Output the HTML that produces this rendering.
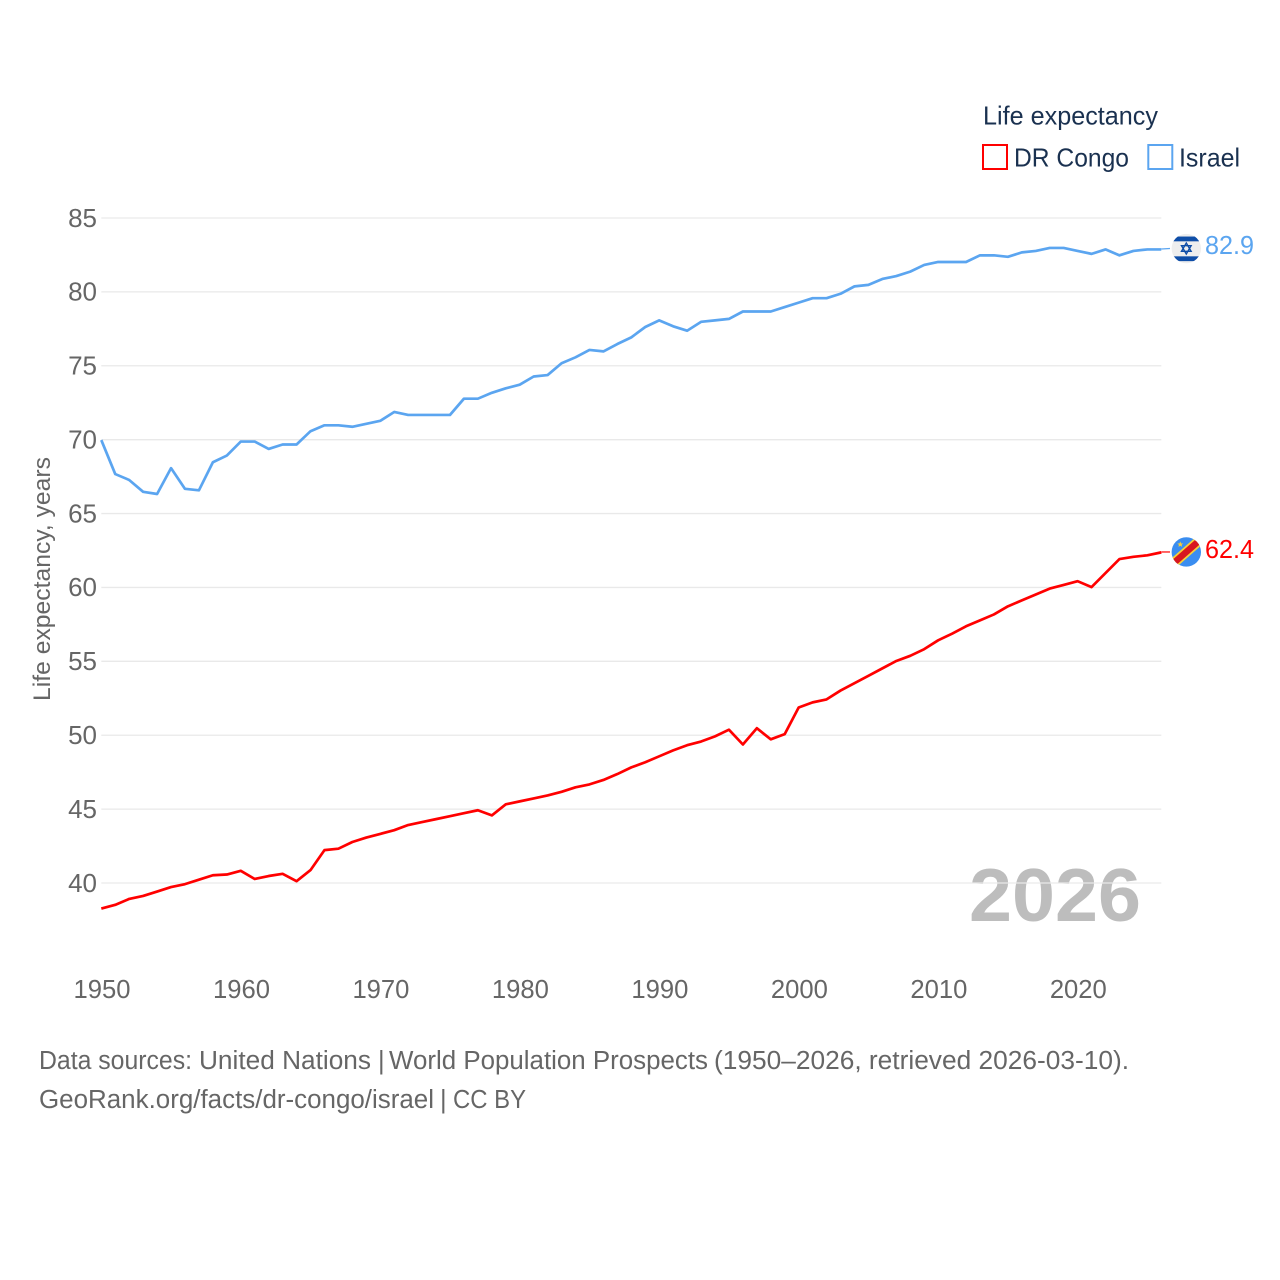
<!DOCTYPE html>
<html lang="en">
<head>
<meta charset="utf-8">
<title>Life expectancy: DR Congo and Israel</title>
<style>
html,body{margin:0;padding:0;background:#fff;}
svg{display:block;}
text{font-family:"Liberation Sans",sans-serif;}
</style>
</head>
<body>
<svg id="chart" xmlns="http://www.w3.org/2000/svg" width="1280" height="1280" viewBox="0 0 1280 1280">
  <defs>
    <clipPath id="flag-clip"><circle cx="0" cy="0" r="14.7"></circle></clipPath>
  </defs>
  <text x="969" y="921" font-size="75" font-weight="bold" fill="#bdbdbd" textLength="172" lengthAdjust="spacingAndGlyphs">2026</text>
  <g id="grid"></g>
  <g id="y-ticks"></g>
  <g id="x-ticks"></g>
  <text transform="translate(50,701) rotate(-90)" font-size="24.5" fill="#666666" textLength="244" lengthAdjust="spacingAndGlyphs">Life expectancy, years</text>
  <g id="series" transform="translate(0,0.4)"></g>
  <g id="ends"></g>
  <g>
    <text x="983" y="124.5" font-size="26" fill="#1a3150" textLength="175" lengthAdjust="spacingAndGlyphs">Life expectancy</text>
    <rect x="983" y="145" width="24" height="24" fill="#fff" stroke="#ff0000" stroke-width="2"></rect>
    <text x="1014" y="166.5" font-size="26" fill="#1a3150" textLength="115" lengthAdjust="spacingAndGlyphs">DR Congo</text>
    <rect x="1148.3" y="145" width="24" height="24" fill="#fff" stroke="#5ba5f0" stroke-width="2"></rect>
    <text x="1179" y="166.5" font-size="26" fill="#1a3150" textLength="61" lengthAdjust="spacingAndGlyphs">Israel</text>
  </g>
  <text y="1069" font-size="25.5" fill="#666666"><tspan x="39" textLength="153" lengthAdjust="spacingAndGlyphs">Data sources:</tspan> <tspan x="199" textLength="172" lengthAdjust="spacingAndGlyphs">United Nations</tspan> <tspan x="378">|</tspan> <tspan x="389" textLength="319" lengthAdjust="spacingAndGlyphs">World Population Prospects</tspan> <tspan x="714" textLength="415" lengthAdjust="spacingAndGlyphs">(1950–2026, retrieved 2026-03-10).</tspan></text>
  <text y="1108" font-size="25.5" fill="#666666"><tspan x="39" textLength="395" lengthAdjust="spacingAndGlyphs">GeoRank.org/facts/dr-congo/israel</tspan> <tspan x="440">|</tspan> <tspan x="453" textLength="73" lengthAdjust="spacingAndGlyphs">CC BY</tspan></text>
</svg>
<script>
const startYear = 1950;
const yTickValues = [40, 45, 50, 55, 60, 65, 70, 75, 80, 85];
const xTickValues = [1950, 1960, 1970, 1980, 1990, 2000, 2010, 2020];
const israelValues = [
  70.0, 67.7, 67.3, 66.5, 66.35, 68.1, 66.7, 66.6, 68.5, 68.95,
  69.9, 69.9, 69.4, 69.7, 69.7, 70.6, 71.0, 71.0, 70.9, 71.1,
  71.3, 71.9, 71.7, 71.7, 71.7, 71.7, 72.8, 72.8, 73.2, 73.5,
  73.75, 74.3, 74.4, 75.2, 75.6, 76.1, 76.0, 76.5, 76.95, 77.65,
  78.1, 77.7, 77.4, 78.0, 78.1, 78.2, 78.7, 78.7, 78.7, 79.0,
  79.3, 79.6, 79.6, 79.9, 80.4, 80.5, 80.9, 81.1, 81.4, 81.85,
  82.05, 82.05, 82.05, 82.5, 82.5, 82.4, 82.7, 82.8, 83.0, 83.0,
  82.8, 82.6, 82.9, 82.5, 82.8, 82.9, 82.9
];
const congoValues = [
  38.3, 38.55, 38.95, 39.15, 39.45, 39.75, 39.95, 40.25, 40.55, 40.6,
  40.85, 40.3, 40.5, 40.65, 40.15, 40.9, 42.25, 42.35, 42.8, 43.1,
  43.35, 43.6, 43.95, 44.15, 44.35, 44.55, 44.75, 44.95, 44.6, 45.35,
  45.55, 45.75, 45.95, 46.2, 46.5, 46.7, 47.0, 47.4, 47.85, 48.2,
  48.6, 49.0, 49.35, 49.6, 49.95, 50.4, 49.4, 50.5, 49.75, 50.1,
  51.9, 52.25, 52.45, 53.05, 53.55, 54.05, 54.55, 55.05, 55.4, 55.85,
  56.45, 56.9, 57.4, 57.8, 58.2, 58.75, 59.15, 59.55, 59.95, 60.2,
  60.45, 60.05, 61.0, 61.95, 62.1, 62.2, 62.4
];

const SVG_NS = 'http://www.w3.org/2000/svg';
const plotLeft = 101.3, plotRight = 1161.3, endYear = 2026;
const xScale = function (year) { return plotLeft + (year - 1950) * (plotRight - plotLeft) / (endYear - 1950); };
const yScale = function (value) { return 883 - (value - 40) * (883 - 218) / 45; };
function make(tag, attrs, parent, text) {
  const el = document.createElementNS(SVG_NS, tag);
  for (const k in attrs) el.setAttribute(k, attrs[k]);
  if (text !== undefined) el.textContent = text;
  parent.appendChild(el);
  return el;
}

const gridGroup = document.getElementById('grid');
const yTickGroup = document.getElementById('y-ticks');
yTickValues.forEach(function (v) {
  const line = make('line', { x1: plotLeft, x2: plotRight, y1: yScale(v), y2: yScale(v), stroke: '#e9e9e9', 'stroke-width': 1.3 }, gridGroup);
  
  
  const label = make('text', { x: 97, y: yScale(v) + 8.8, 'text-anchor': 'end', 'font-size': 26, fill: '#666666' }, yTickGroup, String(v));
  
  
});

const xTickGroup = document.getElementById('x-ticks');
xTickValues.forEach(function (year) {
  const label = make('text', { x: xScale(year) + 0.7, y: 998, 'text-anchor': 'middle', 'font-size': 26, fill: '#666666', textLength: 57, lengthAdjust: 'spacingAndGlyphs' }, xTickGroup, String(year));
  
  
});

function pathFor(values) {
  return values.map(function (v, i) {
    return (i ? 'L' : 'M') + xScale(startYear + i).toFixed(2) + ' ' + yScale(v).toFixed(2);
  }).join(' ');
}

const seriesGroup = document.getElementById('series');
const congoLine = make('path', { d: pathFor(congoValues), fill: 'none', stroke: '#ff0000', 'stroke-width': 2.7, 'stroke-linejoin': 'round' }, seriesGroup);


const israelLine = make('path', { d: pathFor(israelValues), fill: 'none', stroke: '#5ba5f0', 'stroke-width': 2.7, 'stroke-linejoin': 'round' }, seriesGroup);



const endsGroup = document.getElementById('ends');
const israelLast = israelValues[israelValues.length - 1];
const congoLast = congoValues[congoValues.length - 1];

const israelConnector = make('line', { x1: plotRight, x2: 1170, y1: yScale(israelLast), y2: yScale(israelLast) - 0.5, stroke: '#5ba5f0', 'stroke-width': 1.2 }, endsGroup);


const congoConnector = make('line', { x1: plotRight, x2: 1170, y1: yScale(congoLast), y2: yScale(congoLast), stroke: '#ff0000', 'stroke-width': 1.2 }, endsGroup);



const israelFlag = make('g', { transform: 'translate(1186.3,' + (yScale(israelLast) - 0.5) + ')', 'clip-path': 'url(#flag-clip)' }, endsGroup);


make('rect', { x: -15, y: -15, width: 30, height: 30, fill: '#eeeeee' }, israelFlag);
make('rect', { x: -15, y: -12, width: 30, height: 4.8, fill: '#0f4ea8' }, israelFlag);
make('rect', { x: -15, y: 7.8, width: 30, height: 4.8, fill: '#0f4ea8' }, israelFlag);
make('path', { d: 'M0 -5.5 L4.8 2.8 H-4.8 Z M0 5.5 L4.8 -2.8 H-4.8 Z', fill: 'none', stroke: '#0f4ea8', 'stroke-width': 1.4 }, israelFlag);

const congoFlag = make('g', { transform: 'translate(1186.3,' + yScale(congoLast) + ')', 'clip-path': 'url(#flag-clip)' }, endsGroup);


make('rect', { x: -15, y: -15, width: 30, height: 30, fill: '#3a8df0' }, congoFlag);
make('line', { x1: -16, y1: 14, x2: 16, y2: -14, stroke: '#f7d038', 'stroke-width': 10 }, congoFlag);
make('line', { x1: -16, y1: 14, x2: 16, y2: -14, stroke: '#d8161f', 'stroke-width': 6.5 }, congoFlag);
make('path', { d: 'M-12 -9.5 L-10.8 -6.6 L-7.8 -6.6 L-10.1 -4.7 L-9.3 -1.8 L-12 -3.4 L-14.7 -1.8 L-13.9 -4.7 L-16.2 -6.6 L-13.2 -6.6 Z', fill: '#f7d038', transform: 'translate(2.4,-3.8) scale(.7)' }, congoFlag);

const israelLabel = make('text', { x: 1205, y: yScale(israelLast) + 5.2, 'font-size': 26, fill: '#5ba5f0', textLength: 49, lengthAdjust: 'spacingAndGlyphs' }, endsGroup, israelLast.toFixed(1));


const congoLabel = make('text', { x: 1205, y: yScale(congoLast) + 6, 'font-size': 26, fill: '#ff0000', textLength: 49, lengthAdjust: 'spacingAndGlyphs' }, endsGroup, congoLast.toFixed(1));


</script>
</body>
</html>
